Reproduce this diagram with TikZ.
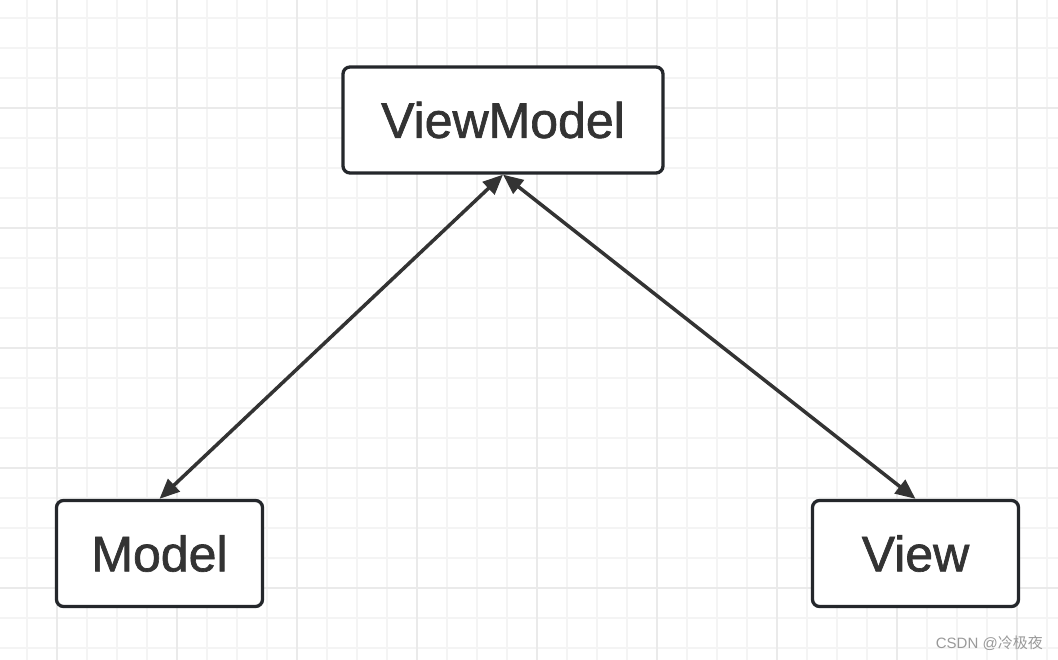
\documentclass[tikz,border=0pt]{standalone}
\usepackage{fontspec}
\setmainfont{Liberation Sans}
\newfontfamily\medfont[FakeBold=1.3]{Liberation Sans}
\newfontfamily\cjk{Noto Sans CJK SC}
\usetikzlibrary{arrows.meta}
\definecolor{boxline}{HTML}{24272B}
\definecolor{txt}{HTML}{333333}
\definecolor{gridminor}{HTML}{F4F4F4}
\definecolor{gridmajor}{HTML}{EAEAEA}
\tikzset{
  box/.style={draw=boxline, line width=3.3pt, rounded corners=7pt, fill=white,
    minimum width=206pt, minimum height=106pt, inner sep=0pt,
    font=\medfont\fontsize{50}{54}\selectfont, text=txt},
  link/.style={draw=txt, line width=3.5pt,
    {Triangle[length=20pt,width=17pt]}-{Triangle[length=20pt,width=17pt]}}
}
\begin{document}
\begin{tikzpicture}[x=1pt,y=-1pt]
\useasboundingbox (0,0) rectangle (1058,660);
\fill[white] (0,0) rectangle (1058,660);
% grid
\foreach \x in {-3,27,...,1058} \draw[gridminor, line width=2pt] (\x,0) -- (\x,660);
\foreach \y in {18,48,...,660} \draw[gridminor, line width=2pt] (0,\y) -- (1058,\y);
\foreach \x in {57,177,...,1058} \draw[gridmajor, line width=2pt] (\x,0) -- (\x,660);
\foreach \y in {108,228,...,660} \draw[gridmajor, line width=2pt] (0,\y) -- (1058,\y);
% nodes
\node[box, minimum width=320pt] (vm) at (503,120) {ViewModel};
\node[box] (m) at (159.5,553.5) {Model};
\node[box] (v) at (915.5,553.5) {View};
% connectors
\draw[link] (m.north) -- (vm.south);
\draw[link] (v.north) -- (vm.south);
% watermark
\node[text=gray!80, font=\fontsize{15}{17}\selectfont, anchor=east, inner sep=0pt] (wm) at (1043,643) {CSDN @\cjk 冷极夜};
\end{tikzpicture}
\end{document}
